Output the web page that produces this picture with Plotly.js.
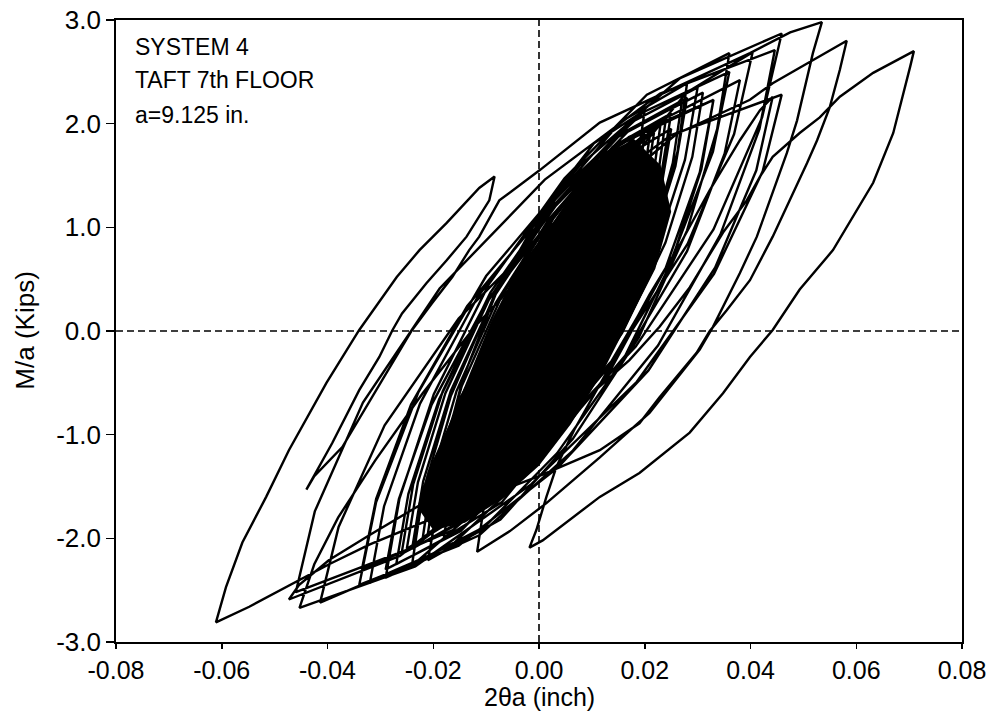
<!DOCTYPE html>
<html>
<head>
<meta charset="utf-8">
<script src="https://cdn.plot.ly/plotly-3.0.1.min.js"></script>
<style>html,body{margin:0;padding:0;background:#fff;}#chart{width:1000px;height:719px;}</style>
</head>
<body>
<div id="chart"></div>
<script>
// Tick labels and texts
const xTickVals = [-0.08, -0.06, -0.04, -0.02, 0.00, 0.02, 0.04, 0.06, 0.08];
const xTickText = ["-0.08", "-0.06", "-0.04", "-0.02", "0.00", "0.02", "0.04", "0.06", "0.08"];
const yTickVals = [-3, -2, -1, 0, 1, 2, 3];
const yTickText = ["-3.0", "-2.0", "-1.0", "0.0", "1.0", "2.0", "3.0"];
const noteLines = ["SYSTEM 4", "TAFT 7th FLOOR", "a=9.125 in."];
const xTitle = "2θa (inch)";
const yTitle = "M/a (Kips)";

// Region where the overlapping cycles merge into solid black (outline)
const denseX = [0.018, 0.023, 0.025, 0.022, 0.017, 0.012, 0.006, 0.0, -0.007, -0.014, -0.02, -0.023, -0.021, -0.017, -0.013, -0.009, -0.004, 0.002, 0.008, 0.013, 0.018];
const denseY = [1.85, 1.60, 1.15, 0.60, 0.10, -0.40, -0.90, -1.30, -1.62, -1.85, -1.92, -1.70, -1.35, -0.90, -0.40, 0.10, 0.60, 1.00, 1.45, 1.72, 1.85];

// Hysteresis path (2θa, M/a): growing cycles
const growX = [0,
 0.0003,0.001,0.0021,0.0036,0.0053,0.007,
 0.0065,0.0052,0.0031,0.0002,-0.0029,-0.006,
 -0.0054,-0.0038,-0.0012,0.0023,0.0062,0.010,
 0.0092,0.0073,0.0043,0.0001,-0.0044,-0.009,
 -0.0081,-0.0059,-0.0024,0.0024,0.0077,0.013,
 0.012,0.0095,0.0055,0.0,-0.006,-0.012,
 -0.0109,-0.0081,-0.0036,0.0026,0.0093,0.016,
 0.0148,0.0117,0.0067,-0.0001,-0.0076,-0.015,
 -0.0136,-0.0102,-0.0048,0.0027,0.0108,0.019,
 0.0175,0.0138,0.0079,-0.0002,-0.0091,-0.018,
 -0.0164,-0.0124,-0.006,0.0028,0.0124,0.022,
 0.0203,0.016,0.0091,-0.0004,-0.0107,-0.021,
 -0.0192,-0.0146,-0.0072,0.0029,0.014,0.025,
 0.023,0.0181,0.0103,-0.0005,-0.0122,-0.024,
 -0.0219,-0.0167,-0.0084,0.003,0.0155,0.028,
 0.0258,0.0204,0.0118,-0.0001,-0.013,-0.026,
 -0.0238,-0.0182,-0.0092,0.0031,0.0166,0.03,
 0.0276,0.0217,0.0123,-0.0007,-0.0148,-0.029,
 -0.0265,-0.0203,-0.0104,0.0032,0.0181,0.033,
 0.0304,0.0239,0.0135,-0.0008,-0.0164,-0.032,
 -0.0293,-0.0225,-0.0116,0.0034,0.0197,0.036,
 0.0329,0.0252,0.0128,-0.0043,-0.0228,-0.0414,
 -0.0379,-0.0292,-0.0152,0.004,0.025,0.0459,
 0.0423,0.0331,0.0185,-0.0015,-0.0234,-0.0453];
const growY = [0,
 0.15,0.35,0.56,0.76,0.92,1.0,
 0.72,0.34,-0.06,-0.44,-0.75,-0.9,
 -0.57,-0.13,0.33,0.77,1.12,1.3,
 0.93,0.43,-0.10,-0.60,-1.00,-1.2,
 -0.80,-0.26,0.31,0.85,1.28,1.5,
 1.06,0.47,-0.15,-0.74,-1.21,-1.45,
 -0.98,-0.35,0.31,0.94,1.45,1.7,
 1.20,0.53,-0.18,-0.85,-1.38,-1.65,
 -1.13,-0.43,0.31,1.01,1.57,1.85,
 1.30,0.57,-0.19,-0.92,-1.51,-1.8,
 -1.23,-0.47,0.33,1.09,1.70,2.0,
 1.41,0.62,-0.21,-1.00,-1.63,-1.95,
 -1.34,-0.53,0.32,1.13,1.78,2.1,
 1.47,0.63,-0.25,-1.09,-1.76,-2.1,
 -1.45,-0.58,0.34,1.21,1.90,2.25,
 1.59,0.71,-0.21,-1.09,-1.80,-2.15,
 -1.48,-0.58,0.37,1.27,1.99,2.35,
 1.65,0.72,-0.25,-1.18,-1.93,-2.3,
 -1.62,-0.71,0.24,1.14,1.87,2.23,
 1.53,0.60,-0.38,-1.31,-2.06,-2.43,
 -1.69,-0.70,0.33,1.32,2.11,2.5,
 1.73,0.71,-0.37,-1.39,-2.21,-2.62,
 -1.89,-0.91,0.12,1.10,1.89,2.28,
 1.54,0.55,-0.49,-1.48,-2.27,-2.67];

// Large excursions (outer loops)
const bigX = [
 -0.0425,-0.038,-0.031,-0.022,-0.012,0.0,0.012,0.026,0.0399,0.0442,0.0507,0.0582,
 0.0569,0.055,0.0526,0.0507,0.0442,0.0399,0.0355,0.0323,0.0298,0.0228,0.019,0.0115,0.0,-0.0113,-0.0226,-0.0321,-0.0397,-0.046,-0.0548,-0.0611,
 -0.0592,-0.0561,-0.0516,-0.0473,-0.0402,-0.034,-0.0269,-0.0226,-0.0175,-0.0113,-0.0084,
 -0.0094,-0.0137,-0.0175,-0.0213,-0.0259,-0.0277,-0.0302,-0.034,-0.0391,-0.044,
 -0.0425,-0.0372,-0.0327,-0.0277,-0.024,-0.0202,-0.0164,-0.0132,-0.0113,-0.0075,0.0001,0.0115,0.0209,0.0304,0.0399,0.0475,0.0535,
 0.0518,0.0503,0.0488,0.0469,0.0442,0.0412,0.038,0.0329,0.0304,0.0209,0.0115,0.0014,-0.0055,-0.0117,
 -0.0096,-0.0044,0.0039,0.0154,0.0279,0.0404,
 0.0369,0.0281,0.0141,-0.0052,-0.0263,-0.0473,
 -0.0454,-0.0397,-0.0321,-0.0226,-0.0113,0.0,0.0096,0.0171,0.0228,0.0285,0.0348,0.0393,0.0418,0.0442,0.0493,0.0531,0.0569,0.0632,0.0709,
 0.0702,0.067,0.0632,0.0556,0.0493,0.0442,0.0399,0.0348,0.0285,0.019,0.0115,0.0007,-0.0018,
 -0.0005,0.0014,0.0033,0.0067,0.0115,0.0162,0.0209,0.0266,0.0323,0.038,0.0418,0.0442];
const bigY = [
 -2.25,-1.8,-1.25,-0.6,0.05,0.7,1.3,1.9,2.23,2.39,2.58,2.80,
 2.52,2.16,1.84,1.62,0.91,0.49,0.20,0.0,-0.21,-0.64,-0.89,-1.15,-1.40,-1.62,-1.86,-2.06,-2.25,-2.42,-2.66,-2.81,
 -2.47,-2.04,-1.60,-1.15,-0.50,0.01,0.52,0.78,1.04,1.38,1.49,
 1.26,0.91,0.68,0.46,0.17,0.01,-0.25,-0.57,-1.08,-1.53,
 -1.40,-1.12,-0.73,-0.31,0.01,0.27,0.52,0.78,0.91,1.26,1.55,2.01,2.23,2.45,2.68,2.88,2.98,
 2.68,2.35,2.03,1.72,1.33,0.91,0.56,0.04,-0.18,-0.79,-1.22,-1.66,-1.93,-2.13,
 -1.41,-0.44,0.57,1.53,2.30,2.69,
 1.90,0.84,-0.27,-1.32,-2.17,-2.59,
 -2.45,-2.21,-1.97,-1.68,-1.34,-0.95,-0.62,-0.28,0.04,0.42,0.95,1.26,1.49,1.68,1.91,2.06,2.26,2.49,2.70,
 2.55,1.91,1.43,0.78,0.40,0.01,-0.25,-0.60,-0.98,-1.37,-1.60,-2.02,-2.09,
 -1.92,-1.60,-1.31,-0.95,-0.52,-0.09,0.35,0.83,1.36,1.84,2.13,2.26];

// Later cycles near the envelope
const lateX = [
 0.0411,0.0333,0.0207,0.0035,-0.0152,-0.034,
 -0.0308,-0.0228,-0.01,0.0076,0.0267,0.0459,
 0.0422,0.033,0.0183,-0.0019,-0.0239,-0.046,
 -0.0424,-0.0333,-0.0188,0.0011,0.0229,0.0446,
 0.0417,0.0343,0.0225,0.0063,-0.0113,-0.029,
 -0.0264,-0.0199,-0.0095,0.0048,0.0204,0.036,
 0.0337,0.028,0.0189,0.0064,-0.0073,-0.021,
 -0.0186,-0.0127,-0.0033,0.0097,0.0238,0.038,
 0.0351,0.028,0.0166,0.0008,-0.0163,-0.0335,
 -0.0308,-0.0242,-0.0136,0.0011,0.017,0.033,
 0.0307,0.025,0.0159,0.0034,-0.0103,-0.024,
 -0.0219,-0.0167,-0.0084,0.003,0.0155,0.028,
 0.0262,0.0216,0.0142,0.0041,-0.007,-0.018,
 -0.0163,-0.012,-0.0051,0.0044,0.0147,0.025,
 0.0229,0.0177,0.0094,-0.002,-0.0145,-0.027,
 -0.0247,-0.0189,-0.0096,0.0032,0.0171,0.031,
 0.029,0.0239,0.0157,0.0045,-0.0078,-0.02,
 -0.0184,-0.0144,-0.008,0.0008,0.0104,0.02,
 0.0182,0.0137,0.0065,-0.0034,-0.0142,-0.025,
 -0.0229,-0.0177,-0.0094,0.002,0.0145,0.027,
 0.0253,0.0211,0.0144,0.0052,-0.0049,-0.015,
 -0.0137,-0.0104,-0.0051,0.0022,0.0101,0.018,
 0.0164,0.0124,0.006,-0.0028,-0.0124,-0.022,
 -0.0202,-0.0156,-0.0082,0.0019,0.013,0.024];
const lateY = [
 1.55,0.61,-0.38,-1.32,-2.07,-2.45,
 -1.65,-0.59,0.53,1.59,2.44,2.87,
 2.06,0.98,-0.15,-1.23,-2.09,-2.52,
 -1.74,-0.69,0.41,1.46,2.29,2.71,
 1.95,0.93,-0.14,-1.16,-1.97,-2.38,
 -1.62,-0.61,0.45,1.47,2.28,2.68,
 1.95,0.97,-0.06,-1.04,-1.82,-2.21,
 -1.52,-0.59,0.38,1.31,2.05,2.42,
 1.71,0.77,-0.22,-1.17,-1.92,-2.3,
 -1.62,-0.71,0.24,1.14,1.87,2.23,
 1.56,0.66,-0.28,-1.18,-1.89,-2.25,
 -1.55,-0.63,0.35,1.28,2.02,2.39,
 1.73,0.85,-0.07,-0.95,-1.65,-2.0,
 -1.41,-0.62,0.21,1.00,1.63,1.95,
 1.32,0.48,-0.40,-1.24,-1.91,-2.25,
 -1.57,-0.66,0.30,1.21,1.94,2.3,
 1.68,0.85,-0.02,-0.85,-1.52,-1.85,
 -1.25,-0.46,0.38,1.18,1.81,2.13,
 1.50,0.65,-0.24,-1.09,-1.76,-2.1,
 -1.46,-0.60,0.31,1.17,1.86,2.2,
 1.62,0.84,0.02,-0.76,-1.39,-1.7,
 -1.17,-0.46,0.28,0.99,1.56,1.84,
 1.26,0.50,-0.31,-1.08,-1.69,-2.0,
 -1.39,-0.58,0.27,1.08,1.73,2.05];

// Decaying cycles
const decayX = [
 0.0225,0.0187,0.0126,0.0042,-0.0049,-0.014,
 -0.0128,-0.0099,-0.0053,0.0011,0.008,0.015,
 0.0137,0.0105,0.0054,-0.0016,-0.0093,-0.017,
 -0.0156,-0.0122,-0.0068,0.0007,0.0088,0.017,
 0.0158,0.0129,0.0083,0.0019,-0.005,-0.012,
 -0.011,-0.0086,-0.0048,0.0005,0.0062,0.012,
 0.0111,0.0089,0.0054,0.0006,-0.0047,-0.01,
 -0.0092,-0.0072,-0.004,0.0004,0.0052,0.01,
 0.0093,0.0075,0.0046,0.0006,-0.0037,-0.008,
 -0.0074,-0.0059,-0.0035,-0.0002,0.0034,0.007,
 0.0065,0.0053,0.0034,0.0008,-0.0021,-0.005,
 -0.0046,-0.0037,-0.0023,-0.0003,0.0018,0.004];
const decayY = [
 1.50,0.77,0.01,-0.72,-1.31,-1.6,
 -1.12,-0.48,0.19,0.83,1.34,1.6,
 1.10,0.43,-0.28,-0.95,-1.48,-1.75,
 -1.23,-0.54,0.18,0.87,1.42,1.7,
 1.23,0.60,-0.06,-0.69,-1.20,-1.45,
 -1.02,-0.45,0.15,0.72,1.17,1.4,
 1.00,0.46,-0.11,-0.65,-1.08,-1.3,
 -0.93,-0.43,0.10,0.60,1.00,1.2,
 0.86,0.41,-0.06,-0.51,-0.87,-1.05,
 -0.76,-0.37,0.04,0.43,0.74,0.9,
 0.66,0.34,0.0,-0.32,-0.57,-0.7,
 -0.52,-0.28,-0.03,0.21,0.40,0.5];

// Further small/medium cycles in the dense core
const coreX = [
 0.0032,0.0006,-0.0031,-0.0079,-0.013,
 -0.0114,-0.0064,0.0009,0.0101,0.02,
 0.0181,0.0122,0.0036,-0.0073,-0.019,
 -0.0174,-0.0124,-0.0051,0.0041,0.014,
 0.0125,0.008,0.0014,-0.007,-0.016,
 -0.0141,-0.0082,0.0004,0.0113,0.023,
 0.0214,0.0164,0.0091,-0.0001,-0.01,
 -0.0086,-0.0044,0.0018,0.0096,0.018,
 0.016,0.01,0.0012,-0.01,-0.022,
 -0.0204,-0.0154,-0.0081,0.0011,0.011,
 0.0097,0.0058,0.0001,-0.0072,-0.015,
 -0.0135,-0.0088,-0.002,0.0067,0.016,
 0.0148,0.0112,0.0059,-0.0008,-0.008,
 -0.0066,-0.0022,0.0042,0.0123,0.021,
 0.0191,0.0132,0.0046,-0.0063,-0.018,
 -0.0167,-0.0126,-0.0067,0.0009,0.009,
 0.008,0.0048,0.0002,-0.0057,-0.012,
 -0.0108,-0.007,-0.0015,0.0055,0.013,
 0.0121,0.0092,0.005,-0.0003,-0.006,
 -0.0055,-0.0038,-0.0014,0.0017,0.005];
const coreY = [
 0.14,-0.34,-0.80,-1.24,-1.5,
 -0.89,-0.07,0.71,1.46,1.9,
 1.22,0.30,-0.57,-1.41,-1.9,
 -1.29,-0.47,0.31,1.06,1.5,
 0.92,0.16,-0.58,-1.28,-1.7,
 -1.03,-0.15,0.71,1.52,2.0,
 1.42,0.66,-0.08,-0.78,-1.2,
 -0.68,0.02,0.69,1.32,1.7,
 1.03,0.15,-0.71,-1.52,-2.0,
 -1.44,-0.70,0.02,0.70,1.1,
 0.62,-0.01,-0.62,-1.21,-1.55,
 -0.96,-0.16,0.60,1.32,1.75,
 1.27,0.64,0.03,-0.56,-0.9,
 -0.40,0.28,0.92,1.54,1.9,
 1.23,0.35,-0.51,-1.32,-1.8,
 -1.30,-0.62,0.02,0.64,1.0,
 0.59,0.03,-0.50,-1.00,-1.3,
 -0.81,-0.15,0.49,1.09,1.45,
 1.08,0.59,0.12,-0.33,-0.6,
 -0.38,-0.10,0.18,0.44,0.6];

const pathX = growX.concat(bigX, lateX, decayX, coreX);
const pathY = growY.concat(bigY, lateY, decayY, coreY);

const denseTrace = {
  x: denseX, y: denseY, type: 'scatter', mode: 'lines',
  fill: 'toself', fillcolor: '#000', line: {color: '#000', width: 0},
  hoverinfo: 'skip'
};
const trace = {
  x: pathX, y: pathY, type: 'scatter', mode: 'lines',
  line: {color: '#000', width: 2.4, shape: 'linear'},
  hoverinfo: 'skip'
};

const font = 'Liberation Sans, Arial, Helvetica, sans-serif';
const annotations = noteLines.map((t, i) => ({
  text: t, xref: 'paper', yref: 'paper', x: 0.020, y: [0.956, 0.904, 0.847][i],
  xanchor: 'left', yanchor: 'middle', showarrow: false,
  font: {family: font, size: 23, color: '#000'}
}));
annotations.push({
  text: xTitle, xref: 'paper', yref: 'paper', x: 0.5, y: -0.088,
  xanchor: 'center', yanchor: 'middle', showarrow: false,
  font: {family: font, size: 25, color: '#000'}
});
annotations.push({
  text: yTitle, xref: 'paper', yref: 'paper', x: -0.108, y: 0.5, textangle: -90,
  xanchor: 'center', yanchor: 'middle', showarrow: false,
  font: {family: font, size: 26, color: '#000'}
});

const layout = {
  width: 1000, height: 719,
  margin: {l: 116, r: 38, t: 20, b: 77},
  paper_bgcolor: '#fff', plot_bgcolor: '#fff',
  showlegend: false,
  font: {family: font, color: '#000'},
  xaxis: {
    range: [-0.08, 0.08], tickvals: xTickVals, ticktext: xTickText,
    ticks: 'outside', ticklen: 5, tickwidth: 1.5, tickcolor: '#000',
    showline: true, mirror: true, linecolor: '#000', linewidth: 1.8,
    showgrid: false, zeroline: false,
    tickfont: {family: font, size: 25, color: '#000'}
  },
  yaxis: {
    range: [-3, 3], tickvals: yTickVals, ticktext: yTickText,
    ticks: 'outside', ticklen: 8, tickwidth: 1.5, tickcolor: '#000',
    showline: true, mirror: true, linecolor: '#000', linewidth: 1.8,
    showgrid: false, zeroline: false,
    tickfont: {family: font, size: 26, color: '#000'}
  },
  shapes: [
    {type: 'line', xref: 'x', yref: 'paper', x0: 0, x1: 0, y0: 0, y1: 1,
     line: {color: '#000', width: 1.6, dash: '7px,4px'}},
    {type: 'line', xref: 'paper', yref: 'y', x0: 0, x1: 1, y0: 0, y1: 0,
     line: {color: '#000', width: 1.6, dash: '7px,4px'}}
  ],
  annotations: annotations
};

Plotly.newPlot('chart', [denseTrace, trace], layout, {displayModeBar: false, staticPlot: true});
</script>
</body>
</html>
